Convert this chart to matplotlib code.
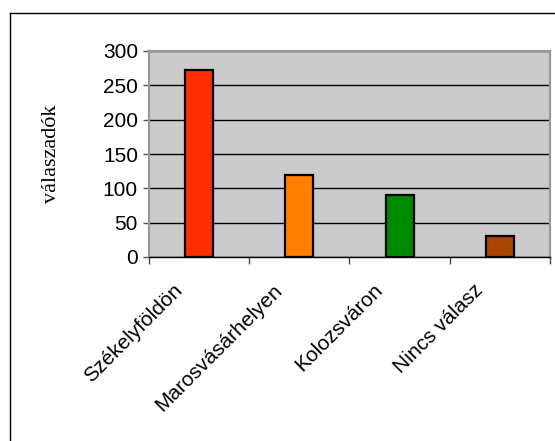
import matplotlib
matplotlib.use("Agg")
import matplotlib.pyplot as plt
from matplotlib.lines import Line2D
from matplotlib.transforms import ScaledTranslation

categories = ["Székelyföldön", "Marosvásárhelyen", "Kolozsváron", "Nincs válasz"]
values = [273, 120, 91, 30]
bar_colors = ["#FF2D00", "#FF7F00", "#008A00", "#A84400"]
y_ticks = [0, 50, 100, 150, 200, 250, 300]
y_label = "válaszadók"

W, H = 555, 441
fig = plt.figure(figsize=(W / 100, H / 100), dpi=100)
fig.patch.set_facecolor("white")

# outer chart frame (left and top edges)
fig.add_artist(Line2D([10 / W, 10 / W], [0, 1 - 13 / H], transform=fig.transFigure,
                      color="black", lw=1.0))
fig.add_artist(Line2D([10 / W, 1], [1 - 13 / H, 1 - 13 / H], transform=fig.transFigure,
                      color="black", lw=1.0))

left, right, top, bottom = 149, 550, 51, 257
ax = fig.add_axes([left / W, 1 - bottom / H, (right - left) / W, (bottom - top) / H])
ax.set_facecolor("#CBCBCB")

x = list(range(len(categories)))
ax.bar(x, values, width=0.28, color=bar_colors, edgecolor="black", linewidth=1.6, zorder=3)

ax.set_xlim(-0.5, len(categories) - 0.5)
ax.set_ylim(0, 300)
ax.set_yticks(y_ticks)
ax.set_yticklabels([str(v) for v in y_ticks], fontsize=15, family="Liberation Sans")
ax.yaxis.grid(True, color="black", linewidth=1.0, zorder=1)
ax.set_axisbelow(True)

for side in ("top", "right", "left"):
    ax.spines[side].set_color("#999999")
    ax.spines[side].set_linewidth(1.6)
ax.spines["bottom"].set_color("black")
ax.spines["bottom"].set_linewidth(1.0)
ax.spines["bottom"].set_zorder(4)

ax.tick_params(axis="y", direction="out", length=4, width=1, color="#555555", pad=4)

# category boundary ticks on the x axis
ax.set_xticks([i - 0.5 for i in range(len(categories) + 1)], minor=True)
ax.tick_params(axis="x", which="minor", direction="out", length=5, width=1, color="#444444")
ax.set_xticks(x)
ax.tick_params(axis="x", which="major", length=0, pad=0)
ax.set_xticklabels(categories, fontsize=15, family="Liberation Sans",
                   rotation=45, ha="right", va="center", rotation_mode="anchor")
offset = ScaledTranslation(-20 / 100, -30 / 100, fig.dpi_scale_trans)
for lbl in ax.get_xticklabels():
    lbl.set_transform(lbl.get_transform() + offset)

ax.set_ylabel(y_label, fontsize=16, family="Liberation Serif")
ax.yaxis.set_label_coords(-0.22, 0.5)

fig.savefig("out.png", dpi=100, facecolor="white")
